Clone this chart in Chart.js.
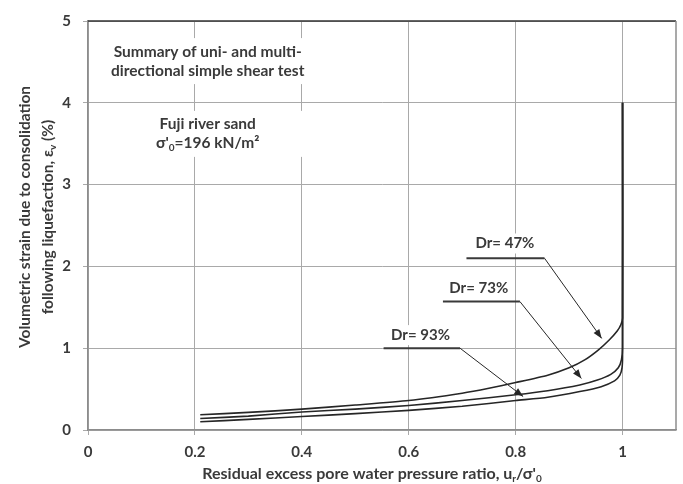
<!DOCTYPE html>
<html>
<head>
<meta charset="utf-8">
<script src="https://cdn.jsdelivr.net/npm/chart.js@4.4.1/dist/chart.umd.min.js"></script>
<style>
  html, body { margin: 0; padding: 0; background: #ffffff; }
  #wrap { width: 683px; height: 484px; }
</style>
</head>
<body>
<div id="wrap"><canvas id="chart" width="683" height="484"></canvas></div>
<script>
// Axis ticks
const xTicks = [0, 0.2, 0.4, 0.6, 0.8, 1];
const yTicks = [0, 1, 2, 3, 4, 5];

// Curve labels (relative density)
const seriesNames = ['Dr= 47%', 'Dr= 73%', 'Dr= 93%'];

// Residual excess pore water pressure ratio u_r/σ'0 and volumetric strain εv (%)
const ratio47  = [0.21, 0.30, 0.40, 0.50, 0.60, 0.70, 0.75, 0.80, 0.86, 0.90, 0.93, 0.955, 0.975, 0.99, 0.997, 1.0, 1.0];
const strain47 = [0.187, 0.215, 0.255, 0.305, 0.36, 0.45, 0.51, 0.58, 0.67, 0.76, 0.86, 0.98, 1.10, 1.21, 1.29, 1.37, 4.0];

const ratio73  = [0.21, 0.30, 0.40, 0.50, 0.60, 0.70, 0.80, 0.86, 0.92, 0.953, 0.978, 0.992, 0.998, 1.0, 1.0];
const strain73 = [0.14, 0.17, 0.22, 0.255, 0.30, 0.36, 0.43, 0.48, 0.55, 0.61, 0.68, 0.76, 0.86, 1.01, 4.0];

const ratio93  = [0.21, 0.30, 0.40, 0.50, 0.60, 0.70, 0.80, 0.86, 0.92, 0.96, 0.985, 0.995, 0.999, 1.0, 1.0];
const strain93 = [0.10, 0.13, 0.165, 0.20, 0.24, 0.29, 0.36, 0.40, 0.47, 0.53, 0.60, 0.67, 0.76, 0.90, 4.0];

// Leader-line label placement in data units: text centre, leader start, elbow, arrow tip
const labelAnchors = [
  { text: seriesNames[0], at: [0.78, 2.28],  from: [0.708, 2.10], elbow: [0.854, 2.10], tip: [0.961, 1.12] },
  { text: seriesNames[1], at: [0.731, 1.74], from: [0.664, 1.57], elbow: [0.808, 1.57], tip: [0.923, 0.63] },
  { text: seriesNames[2], at: [0.622, 1.16], from: [0.553, 1.00], elbow: [0.696, 1.00], tip: [0.814, 0.41] }
];

const FONT = 'Lato, "Open Sans", "DejaVu Sans", sans-serif';
const INK = '#3a3a3a';
const CURVE = '#262626';
const GRID = '#a9a9a9';

const toPoints = (xs, ys) => xs.map((x, i) => ({ x, y: ys[i] }));

// Draws a run of text pieces; pieces with sub:true are set smaller and lowered
function drawRich(ctx, pieces, cx, cy, size) {
  const full = `bold ${size}px ${FONT}`;
  const small = `bold ${Math.round(size * 0.62)}px ${FONT}`;
  let total = 0;
  const widths = pieces.map(p => {
    ctx.font = p.sub ? small : full;
    const w = ctx.measureText(p.t).width;
    total += w;
    return w;
  });
  let x = cx - total / 2;
  ctx.textAlign = 'left';
  ctx.textBaseline = 'middle';
  pieces.forEach((p, i) => {
    ctx.font = p.sub ? small : full;
    ctx.fillText(p.t, x, p.sub ? cy + size * 0.3 : cy);
    x += widths[i];
  });
  return total;
}

const decorations = {
  id: 'decorations',
  beforeDatasetsDraw(chart) {
    const { ctx } = chart;
    const xs = chart.scales.x, ys = chart.scales.y;
    const px = v => xs.getPixelForValue(v);
    const py = v => ys.getPixelForValue(v);
    ctx.save();

    // Description blocks in the upper-left of the plot
    const blocks = [
      { x: 0.224, y: 4.51, lines: [[{ t: 'Summary of uni- and multi-' }], [{ t: 'directional simple shear test' }]] },
      { x: 0.224, y: 3.62, lines: [[{ t: 'Fuji river sand' }], [{ t: "σ'" }, { t: '0', sub: true }, { t: '=196 kN/m²' }]] }
    ];
    blocks.forEach(b => {
      const cx = px(b.x), cy = py(b.y);
      const lh = 19;
      ctx.fillStyle = '#ffffff';
      ctx.fillRect(cx - 105, cy - lh - 4, 210, lh * 2 + 8);
      ctx.fillStyle = INK;
      b.lines.forEach((ln, i) => drawRich(ctx, ln, cx, cy + (i - 0.5) * lh, 15.5));
    });

    // Curve labels with leader lines and arrows
    labelAnchors.forEach(a => {
      const tx = px(a.at[0]), ty = py(a.at[1]);
      ctx.font = `bold 15px ${FONT}`;
      const w = ctx.measureText(a.text).width;
      ctx.fillStyle = '#ffffff';
      ctx.fillRect(tx - w / 2 - 4, ty - 10, w + 8, 20);
      ctx.fillStyle = INK;
      ctx.textAlign = 'center';
      ctx.textBaseline = 'middle';
      ctx.fillText(a.text, tx, ty);

      const x0 = px(a.from[0]), y0 = py(a.from[1]);
      const x1 = px(a.elbow[0]), y1 = py(a.elbow[1]);
      const x2 = px(a.tip[0]), y2 = py(a.tip[1]);
      ctx.strokeStyle = INK;
      ctx.lineWidth = 2;
      ctx.beginPath(); ctx.moveTo(x0, y0); ctx.lineTo(x1, y1); ctx.stroke();
      ctx.strokeStyle = CURVE;
      ctx.lineWidth = 1;
      ctx.beginPath(); ctx.moveTo(x1, y1); ctx.lineTo(x2, y2); ctx.stroke();
      const ang = Math.atan2(y2 - y1, x2 - x1);
      const L = 9, W = 3.5;
      ctx.fillStyle = CURVE;
      ctx.beginPath();
      ctx.moveTo(x2, y2);
      ctx.lineTo(x2 - L * Math.cos(ang) + W * Math.sin(ang), y2 - L * Math.sin(ang) - W * Math.cos(ang));
      ctx.lineTo(x2 - L * Math.cos(ang) - W * Math.sin(ang), y2 - L * Math.sin(ang) + W * Math.cos(ang));
      ctx.closePath();
      ctx.fill();
    });
    ctx.restore();
  },
  afterDraw(chart) {
    const { ctx, chartArea: ca } = chart;
    ctx.save();
    // Plot frame: dark top edge, grey right edge
    ctx.lineWidth = 1.5;
    ctx.strokeStyle = '#333333';
    ctx.beginPath(); ctx.moveTo(ca.left, ca.top); ctx.lineTo(ca.right, ca.top); ctx.stroke();
    ctx.strokeStyle = '#8c8c8c';
    ctx.beginPath(); ctx.moveTo(ca.right, ca.top); ctx.lineTo(ca.right, ca.bottom); ctx.stroke();

    // Axis titles
    ctx.fillStyle = INK;
    drawRich(ctx, [
      { t: 'Residual excess pore water pressure ratio, u' }, { t: 'r', sub: true },
      { t: "/σ'" }, { t: '0', sub: true }
    ], 372, 474, 16);

    ctx.save();
    ctx.translate(25, 217);
    ctx.rotate(-Math.PI / 2);
    drawRich(ctx, [{ t: 'Volumetric strain due to consolidation' }], 0, 0, 15.5);
    ctx.restore();
    ctx.save();
    ctx.translate(48, 217);
    ctx.rotate(-Math.PI / 2);
    drawRich(ctx, [{ t: 'following liquefaction, ε' }, { t: 'v', sub: true }, { t: ' (%)' }], 0, 0, 15.5);
    ctx.restore();
    ctx.restore();
  }
};

const lineStyle = {
  borderColor: CURVE,
  borderWidth: 1.6,
  pointRadius: 0,
  fill: false,
  tension: 0.2
};

new Chart(document.getElementById('chart'), {
  type: 'line',
  data: {
    datasets: [
      { label: seriesNames[0], data: toPoints(ratio47, strain47), ...lineStyle },
      { label: seriesNames[1], data: toPoints(ratio73, strain73), ...lineStyle },
      { label: seriesNames[2], data: toPoints(ratio93, strain93), ...lineStyle }
    ]
  },
  options: {
    responsive: false,
    animation: false,
    devicePixelRatio: 1,
    layout: { padding: { top: 15, right: 7, left: 0, bottom: 0 } },
    plugins: { legend: { display: false }, tooltip: { enabled: false } },
    scales: {
      x: {
        type: 'linear',
        min: 0,
        max: 1.1,
        afterBuildTicks: s => { s.ticks = xTicks.map(v => ({ value: v })); },
        afterFit: s => { s.height = 54; },
        ticks: {
          font: { family: FONT, size: 15, weight: 'bold' },
          color: INK,
          padding: 8,
          maxRotation: 0,
          callback: v => String(Math.round(v * 10) / 10)
        },
        grid: { color: GRID, lineWidth: 1, tickLength: 5 },
        border: { color: '#8c8c8c', width: 1.5 }
      },
      y: {
        type: 'linear',
        min: 0,
        max: 5,
        afterBuildTicks: s => { s.ticks = yTicks.map(v => ({ value: v })); },
        afterFit: s => { s.width = 88; },
        ticks: {
          font: { family: FONT, size: 15, weight: 'bold' },
          color: INK,
          padding: 12,
          callback: v => String(v)
        },
        grid: { color: GRID, lineWidth: 1, tickLength: 5 },
        border: { color: '#8c8c8c', width: 1.5 }
      }
    }
  },
  plugins: [decorations]
});
</script>
</body>
</html>
